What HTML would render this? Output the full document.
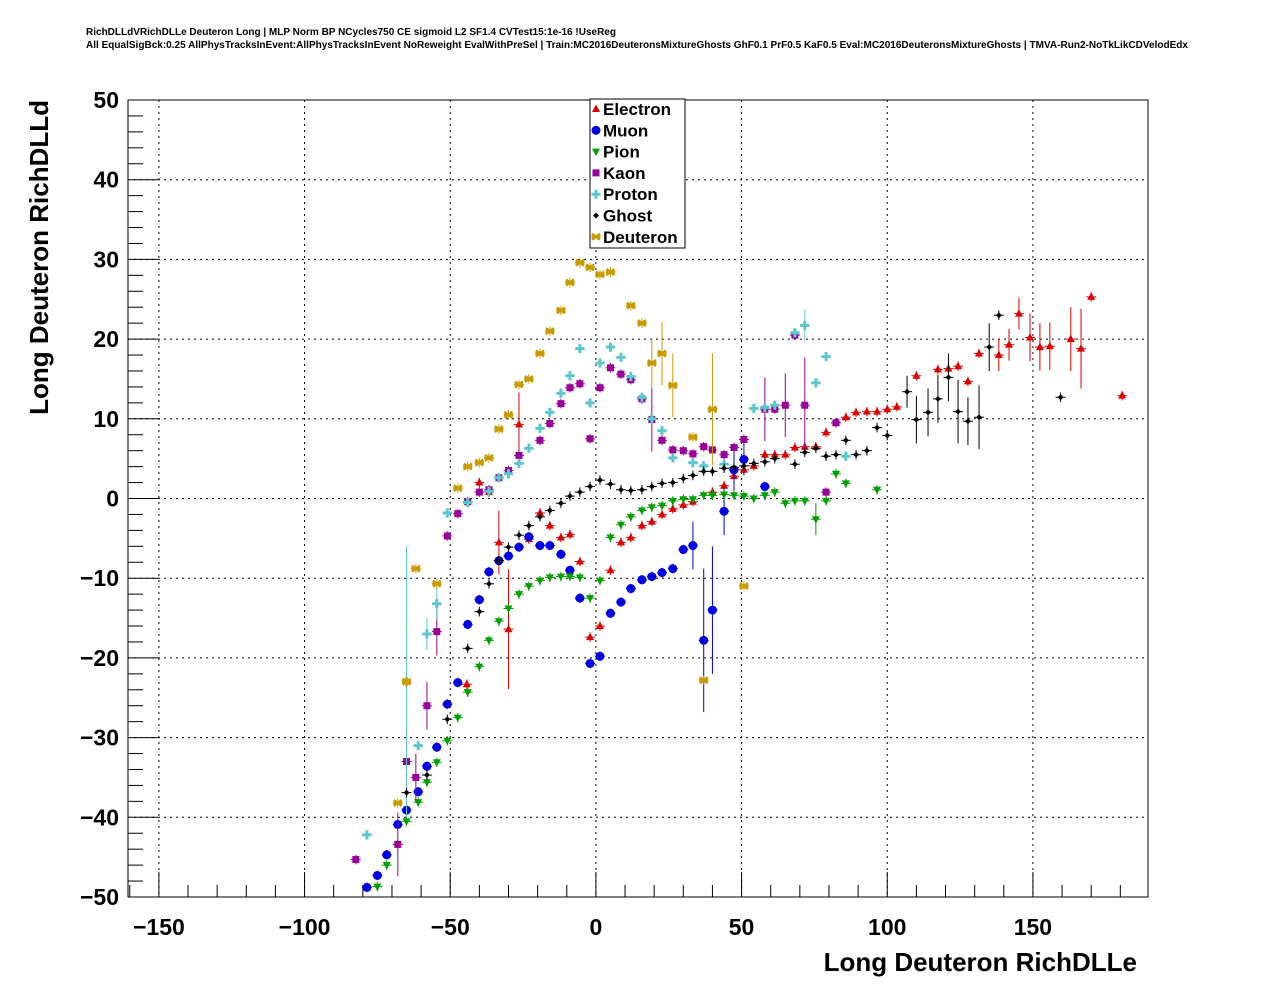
<!DOCTYPE html>
<html><head><meta charset="utf-8"><style>
body{margin:0;background:#fff;}
svg{display:block;font-family:"Liberation Sans",sans-serif;}
</style></head><body>
<svg id="chart" width="1276" height="996" viewBox="0 0 1276 996">
<rect width="1276" height="996" fill="#fff"/>
<text x="86" y="35" font-size="10" font-weight="bold" textLength="530" lengthAdjust="spacingAndGlyphs">RichDLLdVRichDLLe Deuteron Long | MLP Norm BP NCycles750 CE sigmoid L2 SF1.4 CVTest15:1e-16 !UseReg</text>
<text x="86" y="48" font-size="10" font-weight="bold" textLength="1102" lengthAdjust="spacingAndGlyphs">All EqualSigBck:0.25 AllPhysTracksInEvent:AllPhysTracksInEvent NoReweight EvalWithPreSel | Train:MC2016DeuteronsMixtureGhosts GhF0.1 PrF0.5 KaF0.5 Eval:MC2016DeuteronsMixtureGhosts | TMVA-Run2-NoTkLikCDVelodEdx</text>
<g id="grid"></g><g id="axes"></g><g id="marks"></g><g id="legend"></g>
<text x="1137" y="971" font-size="26" font-weight="bold" text-anchor="end">Long Deuteron RichDLLe</text>
<text transform="translate(48,100) rotate(-90)" font-size="26" font-weight="bold" text-anchor="end">Long Deuteron RichDLLd</text>
</svg>
<script>
const xTicks=[-150,-100,-50,0,50,100,150];
const yTicks=[-50,-40,-30,-20,-10,0,10,20,30,40,50];
const seriesNames=["Electron","Muon","Pion","Kaon","Proton","Ghost","Deuteron"];
const electron=[[-44.3,-23.3],[-40,2],[-36.7,0.8],[-33.3,-5.5,4],[-30,-16.4,7.5],[-26.4,9.3,4],[-23,-5.1],[-19.2,-1.8],[-15.8,-3.4],[-12,-4.9],[-8.9,-4.5],[-5.5,-7.9],[-2,-17.4],[1.4,-16],[5,-9],[8.6,-5.5],[12,-4.9],[15.8,-3.4],[19.2,-2.9],[22.7,-2],[26.4,-1.3],[30,-0.8],[33.3,-0.4],[40,0.8],[44,1.6],[47.4,2.8],[50.8,3.6],[54.2,4.1],[58,5.5],[61.4,5.5],[65,5.5],[68.3,6.4],[71.7,6.5],[75.5,6.5],[79,8.3],[82.4,9.5],[85.8,10.2],[89.3,10.8],[93,10.9],[96.5,10.9],[100,11.2],[103.3,11.5],[110,15.4],[117.4,16.2],[121,16.3],[124.3,16.6],[127.7,14.7],[131.5,18.2],[138.3,18,2],[141.8,19.3,2],[145.2,23.2,2],[149,20.2,3],[152.4,19,3],[155.8,19.1,3],[163,20,4],[166.5,18.8,5],[170,25.3],[180.6,12.9]];
const muon=[[-78.6,-48.8],[-75,-47.3],[-71.8,-44.7],[-68,-40.9],[-65,-39.1],[-61,-36.8],[-58,-33.6],[-54.6,-31.2],[-51,-25.8],[-47.4,-23.1],[-44,-15.8],[-40,-12.7],[-36.7,-9.2],[-33.3,-7.8],[-30,-7.2],[-26.4,-6.1],[-23,-4.8],[-19.2,-5.9],[-15.8,-5.9],[-12,-7],[-8.9,-9],[-5.5,-12.5],[-2,-20.7],[1.4,-19.8],[5,-14.4],[8.6,-13],[12,-11.3],[15.8,-10.2],[19.2,-9.8],[22.7,-9.3],[26.4,-8.8],[30,-6.4],[33.3,-5.9,3],[37,-17.8,9],[40,-14,8],[44,-1.6,3],[47.4,3.6,3],[50.8,4.9,2],[58,1.5]];
const pion=[[-75,-48.7],[-71.8,-46],[-68,-43.4],[-65,-40.5],[-61,-38.1],[-58,-35.6],[-54.6,-33.1],[-51,-30.4],[-47.4,-27.5],[-44,-24.3],[-40,-21.1],[-36.7,-17.8],[-33.3,-15.4],[-30,-13.8],[-26.4,-12],[-23,-11],[-19.2,-10.3],[-15.8,-9.9],[-12,-9.8],[-8.9,-9.8],[-5.5,-9.9],[-2,-12.5],[1.4,-10.3],[5,-4.9],[8.6,-3.3],[12,-2.3],[15.8,-1.5],[19.2,-1.1],[22.7,-0.9],[26.4,-0.3],[30,-0.1],[33.3,-0.1],[37,0.4],[40,0.4],[44,0.5],[47.4,0.4],[50.8,0.3],[54.2,0],[58,0.4],[61.4,0.8],[65,-0.6],[68.3,-0.3],[71.7,-0.3],[75.5,-2.6,2],[79,-0.3],[82.4,3.1],[85.8,1.9],[96.5,1.1]];
const kaon=[[-82.4,-45.3],[-68,-43.4,4],[-65,-33,4],[-61.8,-35,3],[-58,-26,3],[-54.6,-16.7,3],[-51,-4.7],[-47.4,-1.9],[-44,-0.4],[-40,0.8],[-36.7,1.1],[-33.3,2.6],[-30,3.5],[-26.4,5.4],[-19.2,7.3],[-15.8,9.4],[-12,11.9],[-8.9,13.9],[-5.5,14.4],[-2,7.5],[1.4,13.9],[5,16.4],[8.6,15.6],[12,14.9],[15.8,12.5],[19.2,9.9,4],[22.7,7.3],[26.4,6.1],[30,6],[33.3,5.6],[37,6.5],[40,6.1],[44,5.5],[47.4,6.4],[50.8,7.4],[58,11.2,4],[61.4,11.2],[65,11.7,4],[68.3,20.5],[71.7,11.7,6],[79,0.8],[82.4,9.5]];
const proton=[[-78.6,-42.2],[-65,-23,17],[-61,-31],[-58,-17,2],[-54.6,-13.2,2],[-51,-1.8],[-44,-0.5],[-36.7,0.9],[-33.3,2.6],[-30,3.1],[-26.4,4.4],[-23,6.3],[-19.2,8.8],[-15.8,10.8],[-12,13.2],[-8.9,15.4],[-5.5,18.8],[-2,12],[1.4,17],[5,19],[8.6,17.7],[12,15.3],[15.8,12.7],[19.2,10],[22.7,8.5],[26.4,5.1],[33.3,4.5],[37,4.1],[44,4.3],[54.2,11.3],[58,11.4],[61.4,11.7],[68.3,20.8],[71.7,21.7,2],[75.5,14.5],[79,17.8],[85.8,5.3]];
const ghost=[[-65,-36.9],[-58,-34.7],[-51,-27.7],[-44,-18.8],[-40,-14.2],[-36.7,-10.7],[-33.3,-7.8],[-30,-6.1],[-26.4,-4.6],[-23,-3.4],[-19.2,-2.3],[-15.8,-1.5],[-12,-0.6],[-8.9,0.3],[-5.5,0.8],[-2,1.5],[1.4,2.3],[5,1.8],[8.6,1.1],[12,1],[15.8,1.1],[19.2,1.5],[22.7,1.9],[26.4,2],[30,2.5],[33.3,2.9],[37,3.4],[40,3.4],[44,3.8],[47.4,3.9],[50.8,4.1],[54.2,4.4],[58,4.6],[61.4,5],[68.3,4.3],[71.7,5.8],[75.5,6.3],[79,5.3],[82.4,5.5],[85.8,7.3],[89.3,5.5],[93,6],[96.5,8.9],[100,7.9],[106.8,13.4,2],[110,9.9,3],[114,10.8,3],[117.4,12.5,3],[121,15.2,3],[124.3,10.9,4],[127.7,9.7,3],[131.5,10.2,4],[135,19,3],[138.3,23],[159.5,12.7]];
const deuteron=[[-68,-38.2],[-65,-23],[-61.8,-8.8],[-54.6,-10.7],[-47.4,1.3],[-44,4],[-40,4.5],[-36.7,5.1],[-33.3,8.7],[-30,10.5],[-26.4,14.3],[-23,15],[-19.2,18.2],[-15.8,21],[-12,23.6],[-8.9,27.1],[-5.5,29.6],[-2,29],[1.4,28.1],[5,28.4],[12,24.2],[15.8,22],[19.2,17,3],[22.7,18.2,4],[26.4,14.2,4],[33.3,7.7],[37,-22.8],[40,11.2,7],[50.8,-11]];
const allSeries=[electron,muon,pion,kaon,proton,ghost,deuteron];
const colors=["#e00000","#0000e6","#00a000","#990099","#5cc8cc","#000000","#c89b00"];
const shapes=["tri","circ","tridn","sq","cross","diam","star"];

const X0=128,X1=1148,Y0=100,Y1=897,XMIN=-160.6,XMAX=189.5,YMIN=-50,YMAX=50;
const sx=v=>X0+(v-XMIN)/(XMAX-XMIN)*(X1-X0);
const sy=v=>Y1-(v-YMIN)/(YMAX-YMIN)*(Y1-Y0);
const NS="http://www.w3.org/2000/svg";
function mk(tag,attrs,parent){const e=document.createElementNS(NS,tag);for(const k in attrs)e.setAttribute(k,attrs[k]);parent.appendChild(e);return e;}
const grid=document.getElementById('grid'),axes=document.getElementById('axes'),marks=document.getElementById('marks'),legend=document.getElementById('legend');
xTicks.forEach(t=>{const l=mk('line',{x1:sx(t),x2:sx(t),y1:Y0,y2:Y1,stroke:'#000','stroke-dasharray':'2,4','stroke-width':1},grid);
});
yTicks.forEach(t=>{const l=mk('line',{x1:X0,x2:X1,y1:sy(t),y2:sy(t),stroke:'#000','stroke-dasharray':'2,4','stroke-width':1},grid);
});
const fr=mk('rect',{x:X0,y:Y0,width:X1-X0,height:Y1-Y0,fill:'none',stroke:'#000','stroke-width':1},axes);

for(let v=-160;v<=180;v+=10){const big=v%50===0;mk('line',{x1:sx(v),x2:sx(v),y1:Y1,y2:Y1-(big?25:12),stroke:'#000'},axes);}
for(let v=-50;v<=50;v+=2){const big=v%10===0;mk('line',{x1:X0,x2:X0+(big?30:15),y1:sy(v),y2:sy(v),stroke:'#000'},axes);}
xTicks.forEach(t=>{const e=mk('text',{x:sx(t),y:935,'font-size':23,'font-weight':'bold','text-anchor':'middle'},axes);e.textContent=String(t).replace('-','\u2212');
});
yTicks.forEach(t=>{const e=mk('text',{x:119,y:sy(t)+8,'font-size':23,'font-weight':'bold','text-anchor':'end'},axes);e.textContent=String(t).replace('-','\u2212');
});
function marker(shape,cx,cy,c,g){
 if(shape==='tri')return mk('path',{d:`M${cx},${cy-4.5}L${cx+4},${cy+3}L${cx-4},${cy+3}Z`,fill:c},g);
 if(shape==='tridn')return mk('path',{d:`M${cx},${cy+4.5}L${cx+4},${cy-3}L${cx-4},${cy-3}Z`,fill:c},g);
 if(shape==='circ')return mk('circle',{cx:cx,cy:cy,r:4.5,fill:c},g);
 if(shape==='sq')return mk('rect',{x:cx-3.5,y:cy-3.5,width:7,height:7,fill:c},g);
 if(shape==='cross')return mk('path',{d:`M${cx-4.5},${cy-1.5}h3v-3h3v3h3v3h-3v3h-3v-3h-3Z`,fill:c},g);
 if(shape==='diam')return mk('path',{d:`M${cx},${cy-3}L${cx+3},${cy}L${cx},${cy+3}L${cx-3},${cy}Z`,fill:c},g);
 return mk('path',{d:`M${cx-4},${cy-3}L${cx+4},${cy+3}M${cx-4},${cy+3}L${cx+4},${cy-3}M${cx-4.5},${cy}H${cx+4.5}`,stroke:c,'stroke-width':2.5},g);
}
allSeries.forEach((s,i)=>{const c=colors[i];
 s.forEach(p=>{const g=mk('g',{},marks);
  
  
  const cx=sx(p[0]),cy=sy(p[1]),e=p.length>2?p[2]:0.6;
  mk('line',{x1:sx(p[0]-1.7),x2:sx(p[0]+1.7),y1:cy,y2:cy,stroke:c,'stroke-width':1},g);
  mk('line',{x1:cx,x2:cx,y1:sy(p[1]-e),y2:sy(p[1]+e),stroke:c,'stroke-width':1},g);
  marker(shapes[i],cx,cy,c,g);
 });
});
const lb=mk('rect',{x:590,y:99,width:95,height:149,fill:'#fff',stroke:'#000'},legend);

seriesNames.forEach((n,i)=>{const y=109+i*21.3;const g=mk('g',{},legend);
 
 marker(shapes[i],596,y,colors[i],g);
 const t=mk('text',{x:603,y:y+6,'font-size':17,'font-weight':'bold'},g);t.textContent=n;});
</script>
</body></html>
